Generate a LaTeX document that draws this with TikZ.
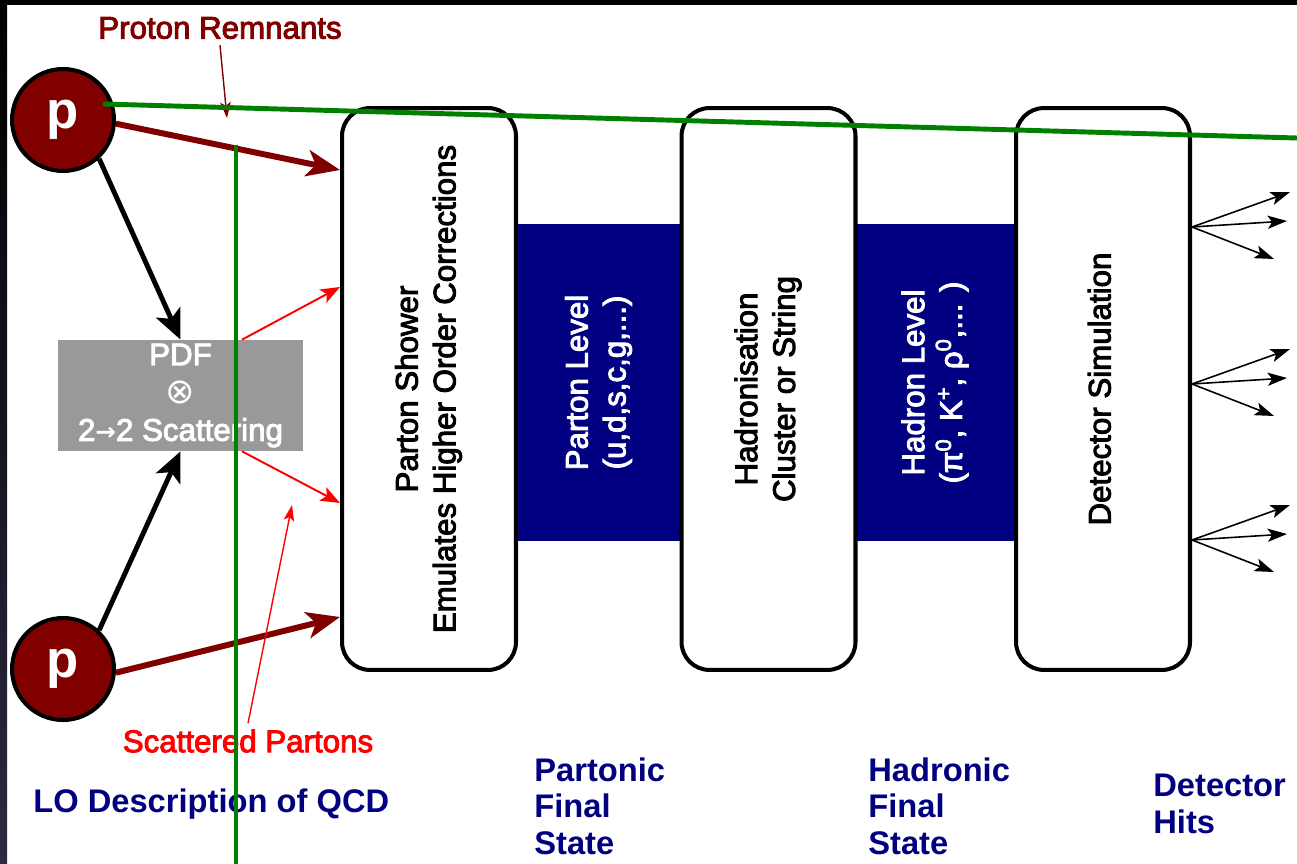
\documentclass[tikz,border=0pt]{standalone}
\usepackage{fontspec}
\setmainfont{Liberation Sans}
\newfontfamily\medfont{Liberation Sans}[FakeBold=3]
\newfontfamily\symfont{DejaVu Sans}
\usepackage{tikz}
\usetikzlibrary{arrows.meta}
\definecolor{remnant}{RGB}{128,0,0}
\definecolor{navyband}{RGB}{0,0,128}
\definecolor{cutgreen}{RGB}{0,128,0}
\definecolor{pdfgray}{RGB}{153,153,153}
\definecolor{edgedark}{RGB}{42,42,66}
\newcommand{\uptext}[1]{\rotatebox{90}{\begin{tabular}{@{}c@{}}#1\end{tabular}}}

\begin{document}
\begin{tikzpicture}[x=0.02cm,y=-0.02cm,
    font=\medfont\fontsize{17.8}{21.5}\selectfont,
    stage/.style={draw=black,line width=2.3pt,rounded corners=0.56cm,fill=white,
      minimum width=3.48cm,minimum height=11.24cm,inner sep=0pt},
    levelband/.style={fill=navyband,text=white,minimum width=#1,
      minimum height=6.34cm,inner sep=0pt},
    proton/.style={circle,draw=black,line width=2.3pt,fill=remnant,
      minimum size=2.04cm,inner sep=0pt,text=white,
      font=\normalfont\fontsize{30}{32}\selectfont\bfseries},
    pdfbox/.style={fill=pdfgray,text=white,align=center,
      minimum width=4.9cm,minimum height=2.22cm,inner sep=0pt},
    remnantarrow/.style={-{Stealth[length=19pt,width=15pt,inset=5pt]},
      line width=3.4pt,draw=remnant},
    feed/.style={-{Stealth[length=17pt,width=15pt,inset=4pt]},
      line width=2.8pt,draw=black},
    scatter/.style={-{Stealth[length=11pt,width=8.5pt,inset=2.5pt]},
      line width=1.1pt,draw=red},
    pointer/.style={-{Stealth[length=9pt,width=6pt,inset=2pt]},line width=0.8pt},
    hit/.style={-{Stealth[length=11pt,width=7.5pt,inset=2.5pt]},
      line width=0.9pt,draw=black},
    greencut/.style={draw=cutgreen,line width=2.8pt},
    bottomlbl/.style={text=navyband,
      font=\normalfont\fontsize{18.6}{21}\selectfont\bfseries,
      align=left,inner sep=0pt},
  ]

  \useasboundingbox (0,0) rectangle (1297,864);
  \fill[white] (0,0) rectangle (1297,864);
  \shade[top color=black,bottom color=edgedark] (0,0) rectangle (7,864);
  \fill[black] (0,0) rectangle (1297,5);

  \node[levelband=3.32cm] (partlvl) at (599,382.5)
    {\uptext{Parton Level\\(u,d,s,c,g,...)}};
  \node[levelband=3.22cm] (hadlvl) at (935.5,382.5)
    {\uptext{Hadron Level\\(π\textsuperscript{0}, K\textsuperscript{+}, ρ\textsuperscript{0},... )}};

  \node[stage] (shower) at (429,389)
    {\uptext{Parton Shower\\Emulates Higher Order Corrections}};
  \node[stage] (hadr) at (768.5,389)
    {\uptext{Hadronisation\\Cluster or String}};
  \node[stage] (det) at (1103,389)
    {\uptext{Detector Simulation}};

  \node[proton] (p1) at (63,120) {p};
  \node[proton] (p2) at (63,669) {p};

  \node[pdfbox] (pdf) at (180.5,395.5)
    {PDF\\{\symfont\fontsize{20}{21.5}\selectfont ⊗}\\
     2{\symfont\bfseries\fontsize{14}{21.5}\selectfont →}2 Scattering};

  \draw[feed] (p1.-47) -- (pdf.north);
  \draw[feed] (p2.47) -- (pdf.south);
  \draw[remnantarrow] (p1.-4) -- (shower.west |- 0,170);
  \draw[remnantarrow] (p2.-4) -- (shower.west |- 0,617);
  \draw[scatter] (pdf.north -| 242,0) -- (shower.west |- 0,287);
  \draw[scatter] (pdf.south -| 242,0) -- (shower.west |- 0,503);

  \node[text=remnant] (remnlbl) at (220,28) {Proton Remnants};
  \coordinate (remtip) at (227,118);
  \draw[pointer,draw=remnant] (remnlbl.south) -- (remtip);

  \node[text=red] (scatlbl) at (248,741) {Scattered Partons};
  \coordinate (scattip) at (292,505);
  \draw[pointer,draw=red] (scatlbl.north) -- (scattip);

  \foreach \hy in {227,384,540} {
    \foreach \dx/\dy in {98/-35,95/-6,82/32} {
      \draw[hit] (det.east |- 0,\hy) -- ++(\dx,\dy);
    }
  }

  \node[bottomlbl,anchor=base west] (lodesc) at (33,812) {LO Description of QCD};
  \node[bottomlbl,anchor=north west] (partfs) at (534,757) {Partonic\\Final\\State};
  \node[bottomlbl,anchor=north west] (hadfs) at (868,757) {Hadronic\\Final\\State};
  \node[bottomlbl,anchor=north west] (dethits) at (1153,774) {Detector\\Hits};

  \draw[greencut] (103,104) -- (1297,138);
  \draw[greencut] (236,145) -- (236,864);

\end{tikzpicture}
\end{document}
